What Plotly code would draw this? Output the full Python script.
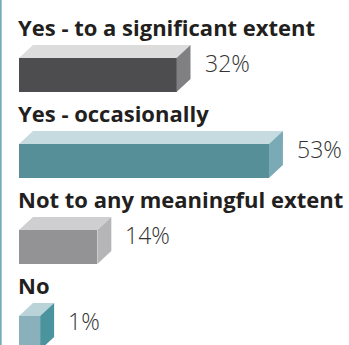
import plotly.graph_objects as go

categories = ["Yes - to a significant extent", "Yes - occasionally",
              "Not to any meaningful extent", "No"]
values = [32, 53, 14, 1]
labels = ["32%", "53%", "14%", "1%"]

front_colors = ["#4d4d4f", "#568f98", "#939396", "#8ab0bb"]
top_colors = ["#dcdcdd", "#c5dbe0", "#cfcfd1", "#b9d3d9"]
side_colors = ["#808082", "#7aaab5", "#b5b5b7", "#4b949e"]

W, H = 349, 345
KX = 4.4          # px per percentage point
BASE = -3.8       # bar start value
X0_PX = 19        # px where BASE sits
Y0_PX = 75        # px centre of first bar
DY_PX = 86        # px between bars
x_lo = BASE - X0_PX / KX
x_hi = x_lo + W / KX
y_top = -Y0_PX / DY_PX
y_bot = y_top + H / DY_PX

bar_h = 34 / DY_PX
dx = 14 / KX
dy = 13 / DY_PX

fig = go.Figure()
idx = list(range(len(categories)))

fig.add_trace(go.Bar(
    x=[v - BASE for v in values], y=idx, base=BASE, orientation="h",
    width=bar_h, marker=dict(color=front_colors, line=dict(width=0)),
    hoverinfo="skip", showlegend=False))

for i, v in enumerate(values):
    y1 = i - bar_h / 2
    y2 = i + bar_h / 2
    fig.add_trace(go.Scatter(
        x=[BASE, v, v + dx, BASE + dx, BASE],
        y=[y1, y1, y1 - dy, y1 - dy, y1],
        fill="toself", fillcolor=top_colors[i], mode="lines",
        line=dict(width=0), hoverinfo="skip", showlegend=False))
    fig.add_trace(go.Scatter(
        x=[v, v + dx, v + dx, v, v],
        y=[y1, y1 - dy, y2 - dy, y2, y1],
        fill="toself", fillcolor=side_colors[i], mode="lines",
        line=dict(width=0), hoverinfo="skip", showlegend=False))
    fig.add_annotation(
        x=v + dx, y=i - 12 / DY_PX, text=labels[i], xanchor="left",
        yanchor="middle", xshift=12, showarrow=False,
        font=dict(family="Open Sans", size=23, weight=300, color="#333333"))

for i, c in enumerate(categories):
    fig.add_annotation(
        x=BASE, y=i - 48 / DY_PX, text="<b>" + c + "</b>",
        xanchor="left", yanchor="middle", xshift=-3, showarrow=False,
        font=dict(family="Open Sans", size=22, color="#231f20"))

fig.add_shape(type="line", xref="paper", yref="paper", x0=0.002, x1=0.002,
              y0=0, y1=1, line=dict(color="#7aaab8", width=2))

fig.update_layout(
    width=W, height=H, margin=dict(l=0, r=0, t=0, b=0),
    paper_bgcolor="white", plot_bgcolor="white",
    xaxis=dict(range=[x_lo, x_hi], visible=False, fixedrange=True),
    yaxis=dict(range=[y_bot, y_top], visible=False, fixedrange=True),
    bargap=0,
)
fig.write_html("out.html")
